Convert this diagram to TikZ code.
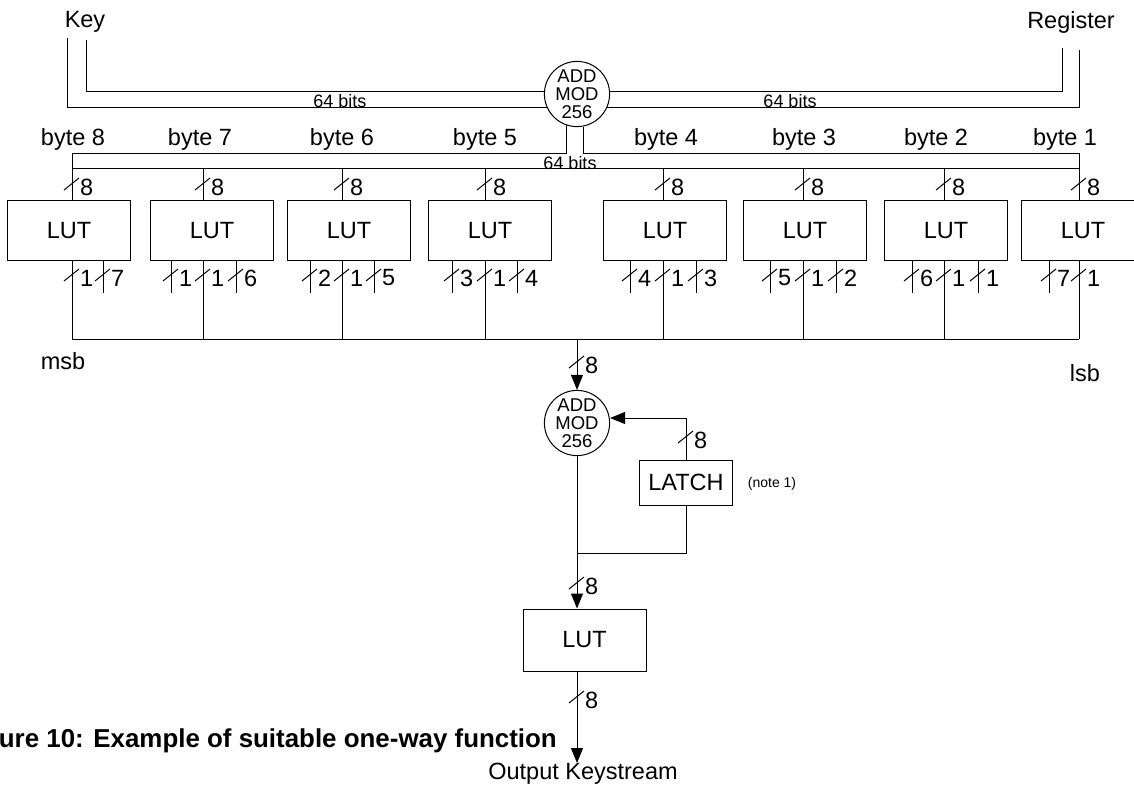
\documentclass[tikz,border=0pt]{standalone}
\usepackage{fontspec}
\setmainfont{Liberation Sans}
\usepackage{tikz}
\usetikzlibrary{arrows.meta, positioning, calc}

\tikzset{
  every node/.style={font=\fontsize{23.5}{26}\selectfont},
  wire/.style={line width=1pt},
  flow/.style={wire, -{Triangle[length=15pt, width=12pt]}},
  lutbox/.style={draw, line width=1pt, minimum width=123pt, minimum height=60pt, inner sep=0pt},
  addmod/.style={draw, circle, line width=1pt, minimum size=64pt, inner sep=0pt, align=center,
    font=\fontsize{18.5}{18}\selectfont},
  bitslabel/.style={font=\fontsize{18}{20}\selectfont, inner sep=0pt},
}

% bus width mark: x, y, number of bits
\newcommand{\widthmark}[3]{%
  \draw[wire] (#1-8,#2+6) -- (#1+7,#2-6);
  \node[anchor=west, inner sep=0pt] (wm#1-#2) at (#1+8,#2+3) {#3};
}

\begin{document}
\begin{tikzpicture}[x=1pt, y=-1pt]
  \useasboundingbox (0,0) rectangle (1134,785);

  % Top adder with key and register inputs
  \node[addmod] (addtop) at (577,94) {ADD\\MOD\\256};
  \node (key) at (85,22) {Key};
  \node (reg) at (1071,22) {Register};
  \coordinate (keyO) at (67,38);
  \coordinate (keyI) at (86,40);
  \coordinate (regI) at (1062,48);
  \coordinate (regO) at (1079,50);
  \draw[wire] (keyO) |- (addtop.204);
  \draw[wire] (keyI) |- (addtop.176);
  \draw[wire] (regI) |- (addtop.4);
  \draw[wire] (regO) |- (addtop.336);
  \node[bitslabel] (bitsL) at (340,101) {64 bits};
  \node[bitslabel] (bitsR) at (790,101) {64 bits};

  % Byte bus
  \coordinate (busTL) at (72,153);
  \coordinate (busTR) at (1079,153);
  \coordinate (busBL) at (72,168);
  \coordinate (busBR) at (1079,168);
  \draw[wire] (addtop.252) |- (busTL) -- (busBL) -- (busBR) -- (busTR) -| (addtop.281);
  \node[bitslabel] (bitsM) at (570,163) {64 bits};
  \foreach \b/\x in {8/73, 7/200, 6/342, 5/485, 4/666, 3/804, 2/936, 1/1065}
    \node (byte\b) at (\x,139) {byte \b};

  % Output bus
  \coordinate (outL) at (72,339);
  \coordinate (outR) at (1079,339);
  \draw[wire] (outL) -- (outR);

  % LUTs, one per byte
  \foreach \b/\bx/\ix in {8/7/72, 7/150/203, 6/287/342, 5/428/485, 4/603/663, 3/743/803, 2/884/944, 1/1021/1079} {
    \node[lutbox, anchor=north west] (lut\b) at (\bx,200) {LUT};
    \coordinate (in\b) at (\ix,168);
    \draw[wire] (in\b) -- (in\b |- lut\b.north);
    \widthmark{\ix}{184}{8}
    \draw[wire] (in\b |- lut\b.south) -- (in\b |- outL);
    \widthmark{\ix}{275}{1}
  }

  % Short outputs of the LUTs
  \foreach \x/\w in {103/7, 171/1, 236/6, 310/2, 374/5, 452/3, 517/4, 630/4, 696/3, 770/5, 836/2, 912/6, 978/1, 1049/7} {
    \draw[wire] (\x,260) -- (\x,293);
    \widthmark{\x}{275}{\w}
  }
  \node (msb) at (63,361) {msb};
  \node (lsb) at (1085,373) {lsb};

  % Second adder and latch feedback
  \coordinate (mid) at (577,339);
  \node[addmod] (addmid) at (577,423) {ADD\\MOD\\256};
  \draw[flow] (mid) -- (addmid.north);
  \widthmark{577}{362}{8}
  \node[lutbox, minimum width=93pt, minimum height=45pt] (latch) at (686,482.5) {LATCH};
  \coordinate (fb) at (686,418);
  \draw[flow] (latch.north) -- (fb) -- (fb -| addmid.east);
  \widthmark{686}{437}{8}
  \node[bitslabel, font=\fontsize{14}{16}\selectfont] (note) at (772,484) {(note 1)};
  \coordinate (join) at (577,553);
  \draw[wire] (latch.south) |- (join);

  % Final LUT and output
  \node[lutbox, minimum height=62pt] (lutout) at (584.5,640) {LUT};
  \draw[flow] (addmid.south) -- (addmid.south |- lutout.north);
  \widthmark{577}{583}{8}
  \coordinate (keystream) at (577,763);
  \draw[flow] (addmid.south |- lutout.south) -- (keystream);
  \widthmark{577}{697}{8}
  \node[anchor=north, inner sep=0pt] (outlbl) at (583,763) {Output Keystream};

  % Caption
  \node[anchor=east, inner sep=0pt, font=\bfseries\fontsize{25.9}{28}\selectfont] (caption) at (557,741)
    {Figure 10: Example of suitable one-way function};
\end{tikzpicture}
\end{document}
